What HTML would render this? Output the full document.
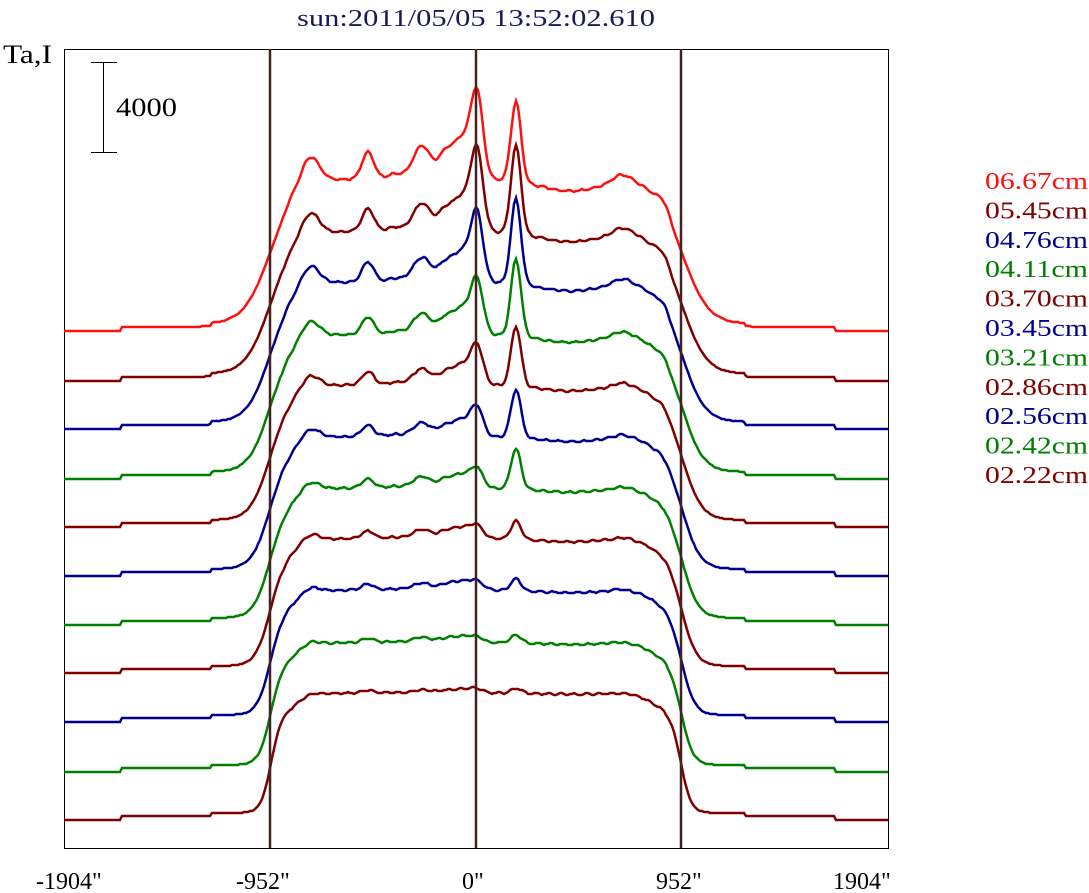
<!DOCTYPE html>
<html><head><meta charset="utf-8"><style>
body{margin:0;background:#fff;}
svg{display:block;font-family:"Liberation Serif",serif;}
</style></head><body>
<svg id="s" width="1089" height="893" xmlns="http://www.w3.org/2000/svg">
<rect x="0" y="0" width="1089" height="893" fill="#fff"/>
<text x="297" y="26" font-size="24" fill="#1a1a5a" textLength="358" lengthAdjust="spacingAndGlyphs">sun:2011/05/05 13:52:02.610</text>
<text x="3" y="63" font-size="26" fill="#000" textLength="49" lengthAdjust="spacingAndGlyphs">Ta,I</text>
<rect x="64.5" y="49.5" width="824" height="799" fill="none" stroke="#000" stroke-width="1"/>
<line x1="103.5" y1="62" x2="103.5" y2="152" stroke="#000"/>
<line x1="91" y1="62.5" x2="117" y2="62.5" stroke="#000"/>
<line x1="91" y1="152.5" x2="117" y2="152.5" stroke="#000"/>
<text x="116" y="116" font-size="26" fill="#000" textLength="61" lengthAdjust="spacingAndGlyphs">4000</text>
<g id="curves"></g>
<line x1="270" y1="49" x2="270" y2="848" stroke="#442222" stroke-width="2.5"/>
<line x1="476" y1="49" x2="476" y2="848" stroke="#442222" stroke-width="2.5"/>
<line x1="681" y1="49" x2="681" y2="848" stroke="#442222" stroke-width="2.5"/>
<g font-size="24" fill="#000">
<text x="36" y="889">-1904"</text>
<text x="236" y="889">-952"</text>
<text x="462" y="889">0"</text>
<text x="656" y="889">952"</text>
<text x="833" y="889">1904"</text>
</g>
<g font-size="24" id="leg"></g>
</svg>
<script>
var names=["06.67cm","05.45cm","04.76cm","04.11cm","03.70cm","03.45cm","03.21cm","02.86cm","02.56cm","02.42cm","02.22cm"];
var cols=["#ff1010","#800000","#000090","#008000","#800000","#000090","#008000","#800000","#000090","#008000","#800000"];
var bases=[331,381,429,479,527,576,625,673,722,772,820];
var T516=[80,88,85,77,60,48,40,18,12,8,5];
var T477=[82,78,66,52,38,28,18,12,8,5,4];
var TG=[1,0.85,0.75,0.65,0.5,0.42,0.35,0.28,0.22,0.16,0.1];
var NS="http://www.w3.org/2000/svg";
var g=document.getElementById("curves"),lg=document.getElementById("leg");
function gs(x,c,w){var d=(x-c)/w;return Math.exp(-d*d/2);}
function lg1(z){return 1/(1+Math.exp(-z));}
for(var i=0;i<11;i++){
 var t=i/10,b=bases[i];
 var D=145-25*t, w=12-7*t, r0=210-5*t;
 var pts=[];
 for(var x=64;x<=888;x+=2){
  var dx=x-476;
  var disk=D*(0.8*lg1((r0-Math.abs(dx))/w)+0.2*lg1((r0-25-Math.abs(dx))/10));
  var step=0; if(x>120&&x<835)step+=4; if(x>210&&x<745)step+=3;
  var inside=lg1((205-Math.abs(dx))/4);
  var f=28*gs(x,310,9)+27*gs(x,368,6)+33*gs(x,422,9)+22*gs(x,445,7)+40*gs(x,462,9)
   +5*gs(x,395,8)-12*gs(x,570,30)+8*gs(x,622,9)+10*gs(x,664,6)+6*gs(x,290,8);
  var v=disk+step+inside*(TG[i]*f+T477[i]*gs(x,477,6)+T516[i]*gs(x,516,5)+0.8*Math.sin(x*0.5+i)*(Math.abs(dx)<195?1:0));
  var y=Math.round(b-v);
  pts.push(x+","+y);
 }
 var p=document.createElementNS(NS,"polyline");
 p.setAttribute("points",pts.join(" "));p.setAttribute("fill","none");
 p.setAttribute("stroke",cols[i]);p.setAttribute("stroke-width","2.5");
 g.appendChild(p);
 var tx=document.createElementNS(NS,"text");
 tx.setAttribute("x","985");tx.setAttribute("y",(189+i*29.4).toFixed(1));
 tx.setAttribute("textLength","103");tx.setAttribute("lengthAdjust","spacingAndGlyphs");
 tx.setAttribute("fill",cols[i]);tx.textContent=names[i];lg.appendChild(tx);
}
</script>
</body></html>
